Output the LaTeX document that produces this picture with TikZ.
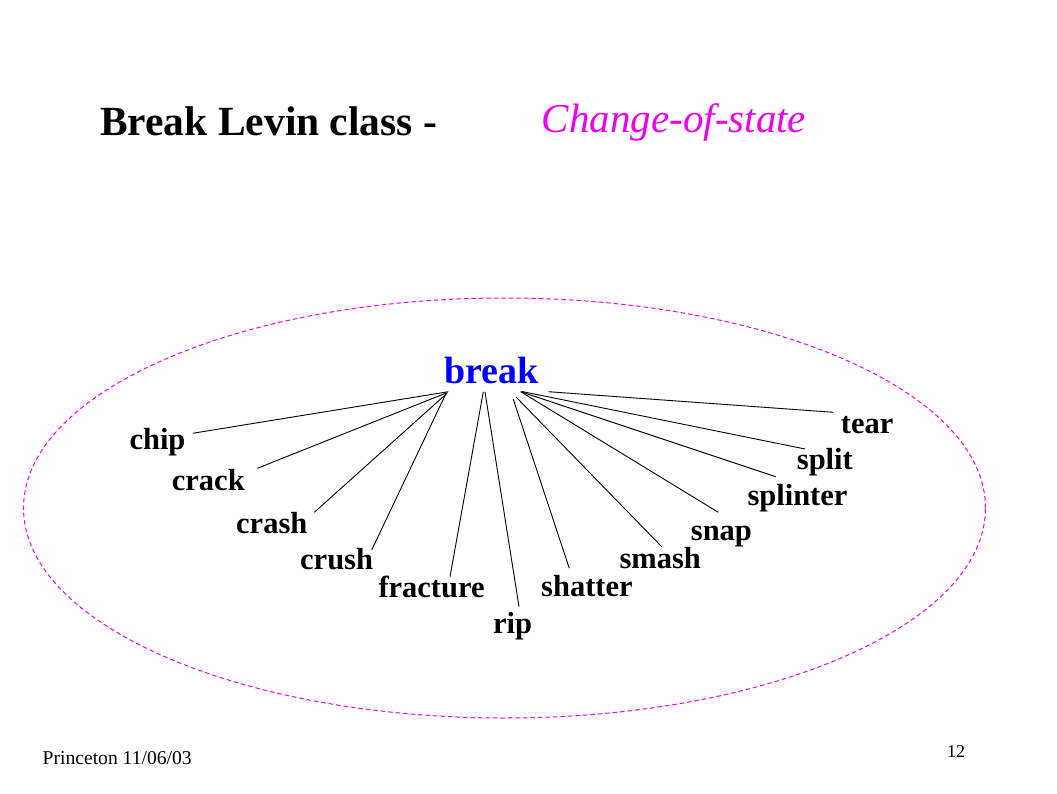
\documentclass[tikz,border=0pt]{standalone}
\usepackage{fontspec}
\setmainfont{Liberation Serif}
\usetikzlibrary{shapes.geometric}
\definecolor{mag}{RGB}{240,0,240}
\definecolor{hubblue}{RGB}{0,0,255}
\begin{document}
\begin{tikzpicture}[x=1pt,y=-1pt,
  lbl/.style={anchor=base west,inner sep=0pt,font=\fontsize{30.5}{34}\selectfont\bfseries},
  conn/.style={line width=0.9pt,black}]
\useasboundingbox[fill=white] (0,0) rectangle (1057,794);
% title
\node[anchor=base west,inner sep=0pt,font=\fontsize{41.5}{48}\selectfont\bfseries] (title) at (100,135.7) {Break Levin class -};
\node[anchor=base west,inner sep=0pt,text=mag,font=\fontsize{41}{48}\selectfont\itshape] (sub) at (541.7,132.5) {Change-of-state};
% ellipse
\node[draw=mag,dash pattern=on 4.5pt off 3pt,line width=1pt,ellipse,minimum width=962pt,minimum height=420pt,inner sep=0pt] (ell) at (504.5,508) {};
% hub
\node[anchor=base west,inner sep=0pt,text=hubblue,font=\fontsize{38}{42}\selectfont\bfseries] (break) at (444,383.5) {break};
% labels
\node[lbl] (chip) at (129.3,449) {chip};
\node[lbl] (crack) at (171.7,490) {crack};
\node[lbl] (crash) at (236,533.3) {crash};
\node[lbl] (crush) at (300,569) {crush};
\node[lbl] (fracture) at (378.3,597.3) {fracture};
\node[lbl] (rip) at (493,633) {rip};
\node[lbl] (shatter) at (541,596.7) {shatter};
\node[lbl] (smash) at (619.3,568.3) {smash};
\node[lbl] (snap) at (690.7,540) {snap};
\node[lbl] (splinter) at (747.3,505) {splinter};
\node[lbl] (split) at (796.7,469) {split};
\node[lbl] (tear) at (840.7,433.3) {tear};
% connector ends
\coordinate (hchip) at (448.3,391.7);
\coordinate (hcrack) at (447.5,392.5);
\coordinate (hcrash) at (446.8,393.5);
\coordinate (hcrush) at (445.5,394.5);
\coordinate (hfracture) at (483.3,391.7);
\coordinate (hrip) at (485,392);
\coordinate (hshatter) at (513.3,399.3);
\coordinate (hsmash) at (516,397);
\coordinate (hsnap) at (520.7,391.7);
\coordinate (hsplinter) at (520.7,391.7);
\coordinate (hsplit) at (522,391.5);
\coordinate (htear) at (548.3,391.7);
\coordinate (echip) at (192.7,433.3);
\coordinate (ecrack) at (257.3,468.3);
\coordinate (ecrash) at (314.3,512.3);
\coordinate (ecrush) at (371.7,550);
\coordinate (efracture) at (450,576.7);
\coordinate (erip) at (519,606.7);
\coordinate (eshatter) at (569.3,568.3);
\coordinate (esmash) at (661.7,546.7);
\coordinate (esnap) at (718.3,512.3);
\coordinate (esplinter) at (775.7,476.7);
\coordinate (esplit) at (805,449);
\coordinate (etear) at (833.3,412.3);
\foreach \n in {chip,crack,crash,crush,fracture,rip,shatter,smash,snap,splinter,split,tear}
  \draw[conn] (h\n) -- (e\n);
% footer
\node[anchor=base west,inner sep=0pt,font=\fontsize{19.6}{22}\selectfont] (foot) at (42.5,764.3) {Princeton 11/06/03};
\node[anchor=base west,inner sep=0pt,font=\fontsize{18}{20}\selectfont] (page) at (947,757.3) {12};
\end{tikzpicture}
\end{document}
